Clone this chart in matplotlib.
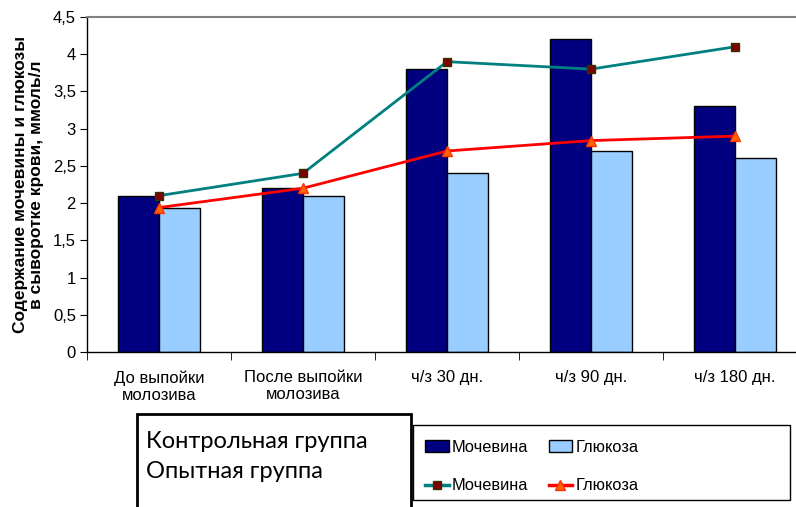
import matplotlib
matplotlib.use("Agg")
import matplotlib.pyplot as plt
from matplotlib.patches import Rectangle, Patch
from matplotlib.lines import Line2D
import numpy as np

plt.rcParams['font.family'] = ['Liberation Sans', 'DejaVu Sans']

categories = ["До выпойки\nмолозива", "После выпойки\nмолозива", "ч/з 30 дн.", "ч/з 90 дн.", "ч/з 180 дн."]
control_urea = [2.1, 2.2, 3.8, 4.2, 3.3]
control_glucose = [1.94, 2.1, 2.4, 2.7, 2.6]
test_urea = [2.1, 2.4, 3.9, 3.8, 4.1]
test_glucose = [1.94, 2.2, 2.7, 2.84, 2.9]
yticks = [0, 0.5, 1, 1.5, 2, 2.5, 3, 3.5, 4, 4.5]
ytick_labels = ["0", "0,5", "1", "1,5", "2", "2,5", "3", "3,5", "4", "4,5"]

W, H = 796, 507
fig = plt.figure(figsize=(W / 100, H / 100), dpi=100)
ax = fig.add_axes([87 / W, (H - 352) / H, (807 - 87) / W, (352 - 17) / H])

x = np.arange(len(categories))
w = 0.285
ax.bar(x - w / 2, control_urea, w, color='#000080', edgecolor='black', linewidth=1)
ax.bar(x + w / 2, control_glucose, w, color='#99CCFF', edgecolor='black', linewidth=1)
ax.plot(x, test_urea, color='#008080', lw=2, marker='s', ms=6,
        markerfacecolor='#800000', markeredgecolor='#333300')
ax.plot(x, test_glucose, color='#FF0000', lw=2, marker='^', ms=7,
        markerfacecolor='#FF6600', markeredgecolor='#FF3300')

ax.set_xlim(-0.5, 4.5)
ax.set_ylim(0, 4.5)
ax.set_yticks(yticks)
ax.set_yticklabels(ytick_labels, fontsize=12)
ax.set_xticks(x)
ax.set_xticklabels(categories, fontsize=12, linespacing=1.2)
ax.set_xticks(np.arange(-0.5, 5, 1), minor=True)
ax.tick_params(axis='x', which='major', length=0, pad=13)
ax.tick_params(axis='x', which='minor', length=6, direction='out', color='black')
ax.tick_params(axis='y', length=5, direction='out', pad=3)
for s in ax.spines.values():
    s.set_linewidth(1)
    s.set_color('black')
ax.spines['top'].set_color('#808080')
ax.spines['top'].set_linewidth(1.5)

ax.set_ylabel("Содержание мочевины и глюкозы\nв сыворотке крови, ммоль/л",
              fontsize=12.5, fontweight='bold', linespacing=1.1, labelpad=6)

# left box with group names
fig.patches.append(Rectangle((137 / W, -0.05), (411 - 137) / W, (H - 414) / H + 0.05,
                             transform=fig.transFigure, fill=False,
                             edgecolor='black', linewidth=2))
fig.text(146 / W, (H - 441) / H, "Контрольная группа", fontsize=17,
         family=['Lato', 'DejaVu Sans'], va='center')
fig.text(146 / W, (H - 472) / H, "Опытная группа", fontsize=17,
         family=['Lato', 'DejaVu Sans'], va='center')

# legend frame
fig.patches.append(Rectangle((413 / W, (H - 500) / H), (790 - 413) / W, (500 - 425) / H,
                             transform=fig.transFigure, fill=False,
                             edgecolor='black', linewidth=1))

handles = [
    Patch(facecolor='#000080', edgecolor='black', label='Мочевина'),
    Line2D([], [], color='#008080', lw=2.5, marker='s', ms=6,
           markerfacecolor='#800000', markeredgecolor='#333300', label='Мочевина'),
    Patch(facecolor='#99CCFF', edgecolor='black', label='Глюкоза'),
    Line2D([], [], color='#FF0000', lw=2.5, marker='^', ms=7,
           markerfacecolor='#FF6600', markeredgecolor='#FF3300', label='Глюкоза'),
]
leg = fig.legend(handles=handles, ncol=2, loc='center left',
                 bbox_to_anchor=(425 / W, (H - 466.5) / H), fontsize=11.8,
                 frameon=False, handlelength=1.45, handleheight=0.75,
                 handletextpad=0.18, columnspacing=1.25,
                 labelspacing=1.45, borderpad=0, borderaxespad=0)

fig.savefig("out.png", dpi=100)
